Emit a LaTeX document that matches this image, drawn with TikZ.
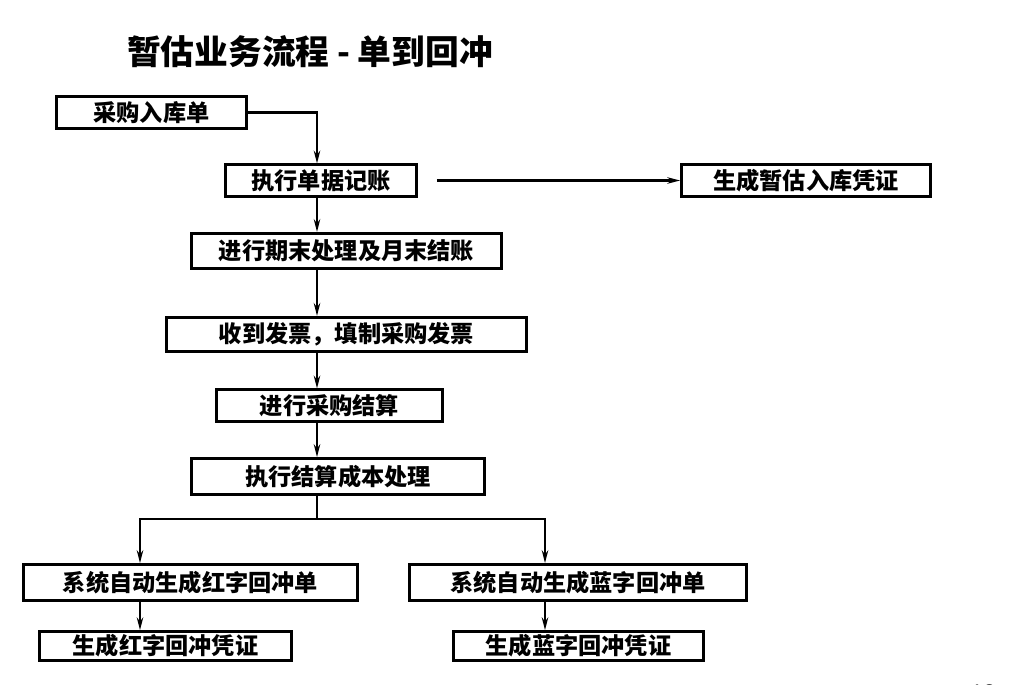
\documentclass[tikz,border=0pt]{standalone}
\usepackage{fontspec}
\setmainfont{Liberation Sans}
\newfontfamily\cjk{Noto Sans CJK SC}
\usetikzlibrary{arrows.meta, positioning, calc}

\begin{document}
\begin{tikzpicture}[
    x=0.025cm, y=-0.025cm,
    stepbox/.style={
        rectangle,
        draw=black,
        line width=2pt,
        fill=white,
        inner sep=0pt,
        minimum height=#1,
        font=\cjk\bfseries\fontsize{16.5}{20}\selectfont
    },
    stepbox/.default=0.78cm,
    line/.style={
        line width=2pt,
        black
    },
    arrow/.style={
        line,
        -{Stealth[length=0.32cm, width=0.16cm]}
    }
]

\useasboundingbox (0,0) rectangle (1029,684);
\clip (0,0) rectangle (1029,684);

% Title
\node[font=\cjk\bfseries\fontsize{24}{28}\selectfont] (title) at (310,52) {暂估业务流程 - 单到回冲};

% Main flow
\node[stepbox, minimum width=4.75cm] (rkd) at (151.5,112.5) {采购入库单};
\node[stepbox, minimum width=4.77cm] (jz) at (321,180.5) {执行单据记账};
\node[stepbox, minimum width=6.22cm] (zgpz) at (806,180.5) {生成暂估入库凭证};
\node[stepbox=0.88cm, minimum width=7.75cm] (qm) at (346.5,251) {进行期末处理及月末结账};
\node[stepbox=0.86cm, minimum width=9.0cm] (fp) at (346.5,334.5) {收到发票，填制采购发票};
\node[stepbox, minimum width=5.65cm] (js) at (329.5,405.5) {进行采购结算};
\node[stepbox=0.9cm, minimum width=7.32cm] (cb) at (338,476.5) {执行结算成本处理};

% Branches
\node[stepbox=0.9cm, minimum width=8.35cm] (hzd) at (190.5,582.5) {系统自动生成红字回冲单};
\node[stepbox=0.9cm, minimum width=8.42cm] (lzd) at (578,582.5) {系统自动生成蓝字回冲单};
\node[stepbox=0.72cm, minimum width=6.3cm] (hzpz) at (165.5,646) {生成红字回冲凭证};
\node[stepbox=0.72cm, minimum width=6.25cm] (lzpz) at (578.5,646) {生成蓝字回冲凭证};

% Page number
\node[anchor=north, font=\fontsize{16}{18}\selectfont] (page) at (983,680) {12};

% Spine and split points
\coordinate (spine) at (317,0);
\coordinate (split) at (317,519);
\coordinate (lsplit) at (140,519);
\coordinate (rsplit) at (545,519);

% Connections
\draw[arrow] (rkd.east) -| (jz.north -| spine);
\draw[arrow] ($(jz.east)+(19,0)$) -- (zgpz.west);
\draw[arrow] (jz.south -| spine) -- (qm.north -| spine);
\draw[arrow] (qm.south -| spine) -- (fp.north -| spine);
\draw[arrow] (fp.south -| spine) -- (js.north -| spine);
\draw[arrow] (js.south -| spine) -- (cb.north -| spine);
\draw[line] (cb.south -| spine) -- (split);
\draw[arrow] (split) -- (lsplit) -- (hzd.north -| lsplit);
\draw[arrow] (split) -- (rsplit) -- (lzd.north -| rsplit);
\draw[arrow] (hzd.south -| lsplit) -- (hzpz.north -| lsplit);
\draw[arrow] (lzd.south -| rsplit) -- (lzpz.north -| rsplit);

\end{tikzpicture}
\end{document}
